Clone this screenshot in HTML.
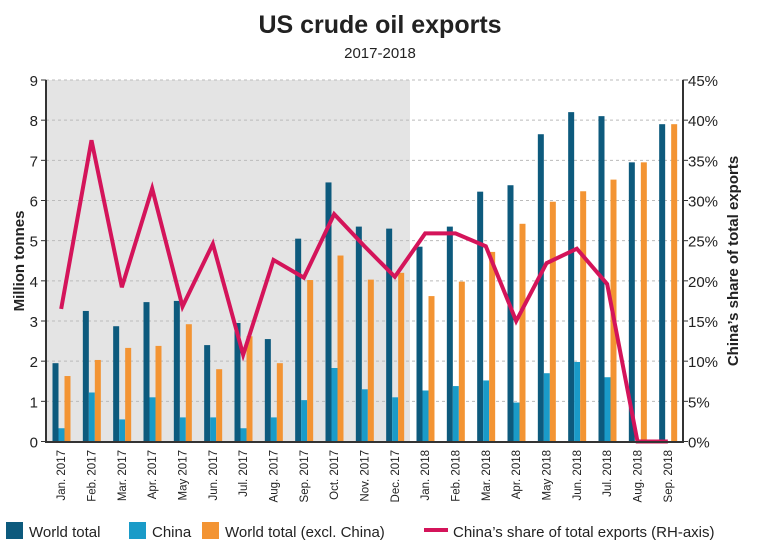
<!DOCTYPE html>
<html><head><meta charset="utf-8"><style>
body{margin:0;background:#fff;width:760px;height:551px;overflow:hidden}
text{font-family:"Liberation Sans",sans-serif;fill:#222}
</style></head><body>
<svg id="s" width="760" height="551" xmlns="http://www.w3.org/2000/svg">
<rect x="46" y="80" width="364" height="362" fill="#e4e4e4"/>
<text x="380" y="33" text-anchor="middle" font-size="25" font-weight="bold">US crude oil exports</text>
<text x="380" y="58" text-anchor="middle" font-size="15">2017-2018</text>
<g id="g"></g>
<text transform="translate(24,261) rotate(-90)" text-anchor="middle" font-size="15" font-weight="bold">Million tonnes</text>
<text transform="translate(738,261) rotate(-90)" text-anchor="middle" font-size="15" font-weight="bold">China’s share of total exports</text>
<rect x="6" y="522" width="17" height="17" fill="#0d5a7d"/><text x="29" y="537" font-size="15">World total</text>
<rect x="129" y="522" width="17" height="17" fill="#1a9bc8"/><text x="152" y="537" font-size="15">China</text>
<rect x="202" y="522" width="17" height="17" fill="#f39433"/><text x="225" y="537" font-size="15">World total (excl. China)</text>
<line x1="424" y1="530" x2="448" y2="530" stroke="#d4145a" stroke-width="4"/><text x="453" y="537" font-size="15">China’s share of total exports (RH-axis)</text>
</svg>
<script>
var W=[1.95,3.25,2.87,3.47,3.5,2.4,2.95,2.55,5.05,6.45,5.35,5.3,4.85,5.35,6.22,6.38,7.65,8.2,8.1,6.95,7.9];
var C=[.33,1.22,.55,1.1,.6,.6,.33,.6,1.03,1.83,1.3,1.1,1.27,1.38,1.52,.97,1.7,1.98,1.6,0,0];
var E=[1.63,2.03,2.33,2.38,2.92,1.8,2.62,1.95,4.02,4.63,4.03,4.2,3.62,3.98,4.72,5.42,5.97,6.23,6.52,6.95,7.9];
var S=[16.5,37.5,19.2,31.5,16.8,24.6,10.8,22.6,20.4,28.3,24.3,20.5,25.9,25.9,24.3,15,22.2,24,19.6,0,0];
var L=["Jan. 2017","Feb. 2017","Mar. 2017","Apr. 2017","May 2017","Jun. 2017","Jul. 2017","Aug. 2017","Sep. 2017","Oct. 2017","Nov. 2017","Dec. 2017","Jan. 2018","Feb. 2018","Mar. 2018","Apr. 2018","May 2018","Jun. 2018","Jul. 2018","Aug. 2018","Sep. 2018"];
var h='',x0=46,gw=637/21,y0=441.5,u=(441.5-80)/9;
for(var i=1;i<=9;i++){var y=y0-i*u;h+='<line x1="46" x2="683" y1="'+y+'" y2="'+y+'" stroke="#bbb" stroke-dasharray="3,3"/>';}
for(var i=0;i<=9;i++){var y=y0-i*u;h+='<text x="38" y="'+(y+6)+'" text-anchor="end" font-size="15">'+i+'</text><line x1="41" x2="46" y1="'+y+'" y2="'+y+'" stroke="#333"/>';
h+='<text x="688" y="'+(y+6)+'" font-size="15">'+(i*5)+'%</text><line x1="683" x2="688" y1="'+y+'" y2="'+y+'" stroke="#333"/>';}
var pts=[];
for(var i=0;i<21;i++){var gx=x0+i*gw;
[[W,'#0d5a7d'],[C,'#1a9bc8'],[E,'#f39433']].forEach(function(a,k){var v=a[0][i];h+='<rect x="'+(gx+6.5+k*6)+'" y="'+(y0-v*u)+'" width="6" height="'+(v*u)+'" fill="'+a[1]+'"/>';});
var cx=gx+gw/2;pts.push(cx+','+(y0-S[i]/5*u));
h+='<text transform="translate('+(cx+4)+',450) rotate(-90)" text-anchor="end" font-size="11.5">'+L[i]+'</text>';}
h+='<polyline points="'+pts.join(' ')+'" fill="none" stroke="#d4145a" stroke-width="4" stroke-linejoin="miter"/>';
h+='<line x1="46" x2="46" y1="80" y2="442" stroke="#333" stroke-width="2"/><line x1="683" x2="683" y1="80" y2="442" stroke="#333" stroke-width="2"/><line x1="45" x2="684" y1="442" y2="442" stroke="#333" stroke-width="2"/>';
document.getElementById('g').innerHTML=h;
</script>
</body></html>
